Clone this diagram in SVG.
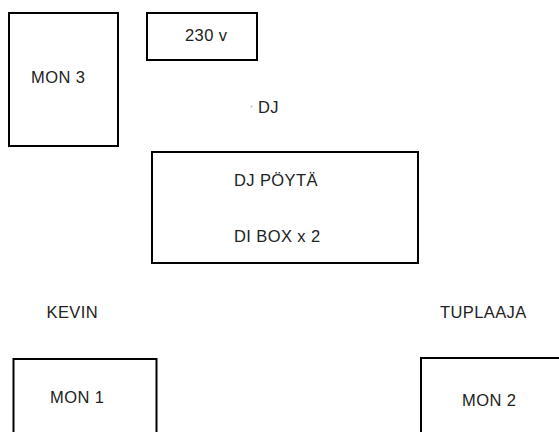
<svg xmlns="http://www.w3.org/2000/svg" width="559" height="432" viewBox="0 0 559 432">
<style>
rect.box{fill:#fff;stroke:#000;stroke-width:2}
text{font-family:"Liberation Sans",Arial,sans-serif;font-size:16.5px;fill:#222;letter-spacing:0.4px}
</style>
<rect width="559" height="432" fill="#fff"/>
<g id="mon3"><rect class="box" x="9" y="13" width="109" height="133"/><text x="31" y="83">MON 3</text></g>
<g id="v230"><rect class="box" x="147" y="13" width="110" height="47"/><text x="185" y="41">230 v</text></g>
<g id="dj"><circle cx="251.5" cy="106.5" r="1" fill="#bbb"/><text x="258" y="113">DJ</text></g>
<g id="djpoyta"><rect class="box" x="152" y="152" width="266" height="111"/><text x="234" y="186">DJ PÖYTÄ</text><text x="234" y="242">DI BOX x 2</text></g>
<g id="kevin"><text x="46.5" y="317.5">KEVIN</text></g>
<g id="tuplaaja"><text x="440" y="317.5">TUPLAAJA</text></g>
<g id="mon1"><rect class="box" x="13.5" y="359" width="143" height="80"/><text x="50" y="403">MON 1</text></g>
<g id="mon2"><rect class="box" x="421" y="358" width="150" height="80"/><text x="462" y="406">MON 2</text></g>
<g id="connectors"></g>
</svg>
